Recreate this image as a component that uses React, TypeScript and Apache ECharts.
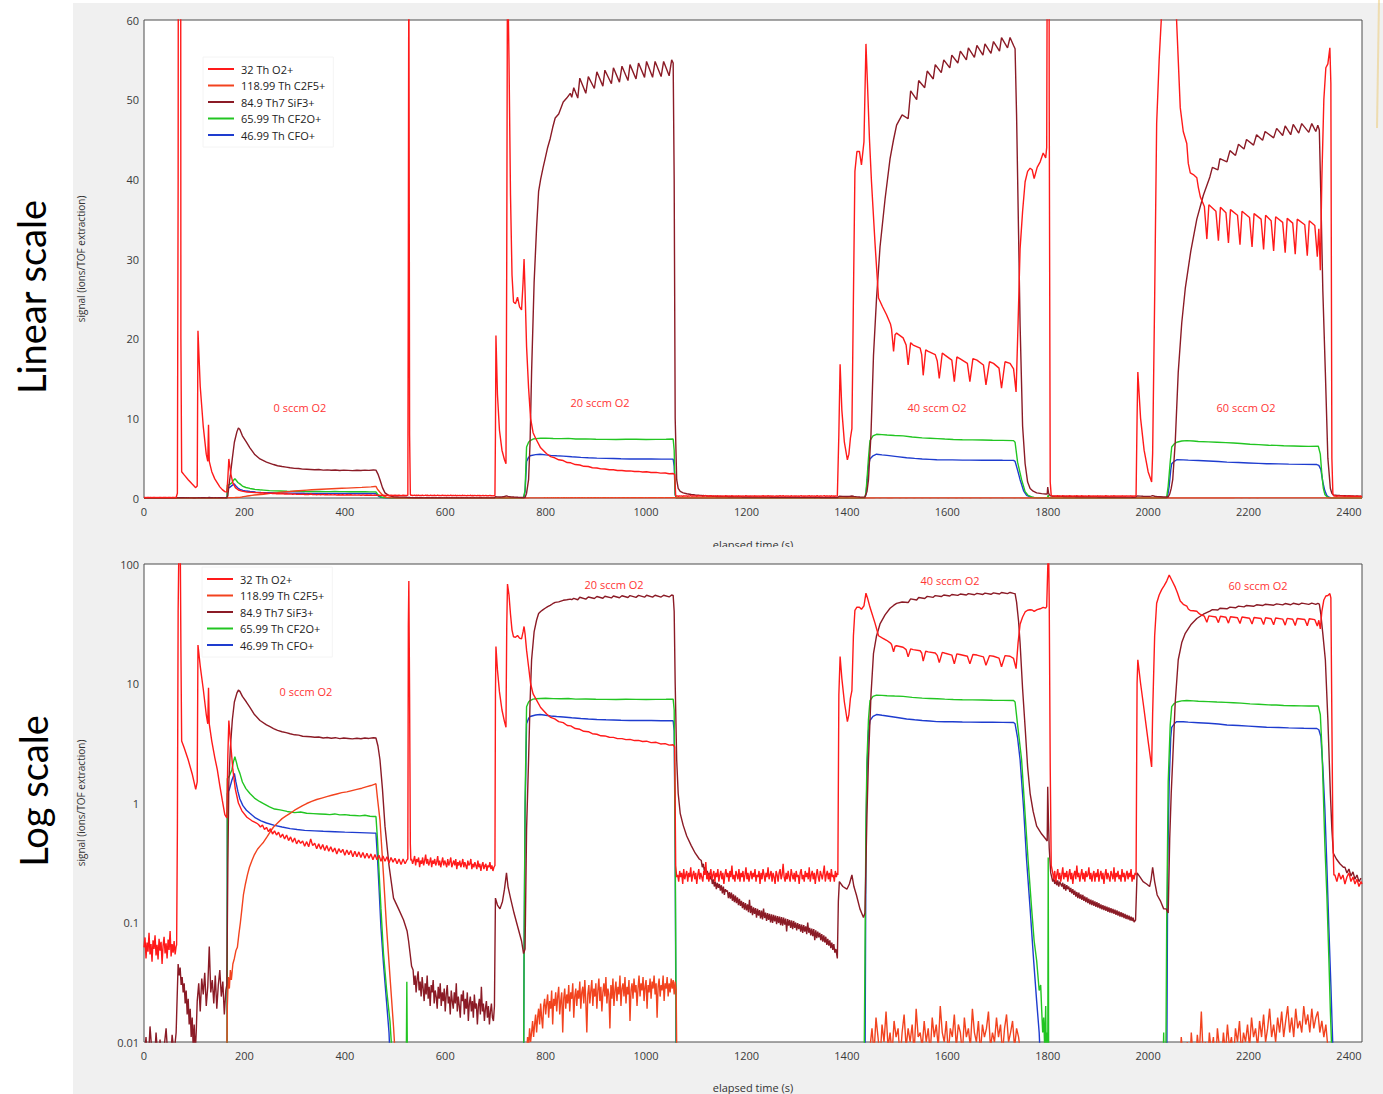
import React, { useEffect, useRef } from 'react';
import * as echarts from 'echarts';

type Pt = [number, number];

const FONT = "'Open Sans', 'Noto Sans', sans-serif";

// ---- axes ----
const TIME_MAX = 2426;
const TIME_STEP = 200;
const LIN_MAX = 60;
const LIN_STEP = 10;
const LOG_MIN = 0.01;
const LOG_MAX = 100;

const SERIES_NAMES = ['32 Th O2+', '118.99 Th C2F5+', '84.9 Th7 SiF3+', '65.99 Th CF2O+', '46.99 Th CFO+'];
const SERIES_COLORS = ['#ff1a1a', '#f2431f', '#8b1b26', '#22c522', '#1e3ccf'];
const FLOW_LABELS = ['0 sccm O2', '20 sccm O2', '40 sccm O2', '60 sccm O2'];

// sampled runs: values recorded every `dt` seconds from `t0`
const run = (t0: number, dt: number, v: number[]): Pt[] => v.map((y, i) => [t0 + i * dt, y]);
const join = (...parts: Pt[][]): Pt[] => parts.flat().sort((a, b) => a[0] - b[0]);

// ---- 32 Th O2+ ----
const o2Quiet0 = [0.062, 0.075, 0.05, 0.068, 0.057, 0.082, 0.054, 0.066, 0.047, 0.071,
  0.06, 0.078, 0.053, 0.065, 0.049, 0.073, 0.058, 0.069, 0.045, 0.064,
  0.076, 0.055, 0.067, 0.05, 0.072, 0.059, 0.085, 0.052, 0.066, 0.056,
  0.07, 0.054, 0.063];
const o2Pulse0: Pt[] = [[65, 0.065], [66.5, 0.6], [68, 40], [70, 220], [72, 200], [73.5, 20], [75, 3.3], [80, 2.9], [88, 2.3], [96, 1.75], [103, 1.3], [106, 1.5], [107.5, 21], [112, 14], [118, 9], [124, 5.5], [127, 4.6], [128.5, 9.2], [130, 4.6], [135, 3.3], [141, 2.4], [146, 1.9], [151, 1.4], [156, 1.05], [161, 0.8], [165, 0.75], [167, 2.5], [169, 4.9], [173, 3.0], [177, 1.9], [182, 1.3], [188, 1.0], [195, 0.86], [205, 0.76], [215, 0.71], [224, 0.68]];
const o2Decay0 = [0.66, 0.63, 0.655, 0.6, 0.625, 0.575, 0.61, 0.55, 0.585, 0.54, 0.57, 0.515, 0.55, 0.5, 0.54, 0.485, 0.52, 0.47, 0.51, 0.455, 0.49, 0.46, 0.48, 0.435, 0.475, 0.43, 0.5, 0.44, 0.46, 0.415, 0.455, 0.41, 0.45, 0.4, 0.44, 0.395, 0.43, 0.39, 0.42, 0.375, 0.415, 0.385, 0.41, 0.365, 0.405, 0.37, 0.4, 0.355, 0.395, 0.355, 0.39, 0.35, 0.385, 0.345, 0.38, 0.345, 0.375, 0.335, 0.37, 0.335, 0.365, 0.325, 0.36, 0.325, 0.355, 0.315, 0.35, 0.32, 0.345, 0.31, 0.34, 0.305, 0.34, 0.31, 0.335];
const o2Pulse1: Pt[] = [[525.5, 0.34], [526.5, 30], [527.5, 72], [529, 8], [530.5, 0.45], [531.5, 0.33]];
const o2Quiet1 = [0.34, 0.31, 0.33, 0.36, 0.3, 0.34, 0.32, 0.35, 0.29, 0.33,
  0.31, 0.35, 0.3, 0.33, 0.37, 0.31, 0.34, 0.3, 0.32, 0.35,
  0.29, 0.33, 0.31, 0.34, 0.3, 0.32, 0.36, 0.3, 0.33, 0.29,
  0.32, 0.35, 0.3, 0.33, 0.31, 0.29, 0.34, 0.3, 0.32, 0.35,
  0.29, 0.31, 0.33, 0.3, 0.34, 0.28, 0.32, 0.3, 0.33, 0.29,
  0.31, 0.34, 0.29, 0.32, 0.3, 0.28, 0.33, 0.3, 0.31, 0.34,
  0.28, 0.31, 0.29, 0.32, 0.3, 0.28, 0.33, 0.29, 0.31, 0.27,
  0.3, 0.32, 0.28, 0.3, 0.31, 0.27, 0.3, 0.29, 0.32, 0.28,
  0.3, 0.27, 0.29];
const o2Pulse2: Pt[] = [[699, 0.3], [700, 8], [701, 20.4], [704, 13], [708, 8.5], [713, 6], [718, 4.8], [721, 4.3], [722.5, 30], [724, 68], [727, 55], [730, 38], [733, 28], [736, 24.6], [740, 24.4], [744, 25.2], [748, 24], [752, 23.6], [755, 27], [757, 30], [759, 26], [762, 19], [766, 13.8], [770, 10], [775, 8.2], [780, 7.5], [790, 6.3], [802, 5.55], [810, 5.2], [818, 5.05], [826, 4.8], [835, 4.7], [843, 4.45], [850, 4.42], [859, 4.2], [868, 4.14], [876, 3.98], [885, 3.95], [893, 3.8], [902, 3.76], [910, 3.65], [918, 3.64], [927, 3.55], [935, 3.54], [943, 3.46], [952, 3.46], [960, 3.39], [968, 3.41], [977, 3.33], [985, 3.34], [993, 3.27], [1001, 3.29], [1010, 3.2], [1020, 3.22], [1029, 3.12], [1038, 3.14], [1046, 3.05], [1054, 3.07], [1057, 2.95], [1059, 0.3], [1061, 0.24]];
const o2Quiet2 = [0.25, 0.22, 0.27, 0.24, 0.26, 0.21, 0.28, 0.23, 0.25, 0.27,
  0.22, 0.26, 0.24, 0.29, 0.22, 0.25, 0.27, 0.23, 0.26, 0.21,
  0.25, 0.28, 0.23, 0.26, 0.24, 0.22, 0.27, 0.25, 0.32, 0.23,
  0.26, 0.22, 0.25, 0.28, 0.23, 0.25, 0.27, 0.22, 0.26, 0.24,
  0.28, 0.22, 0.25, 0.27, 0.23, 0.26, 0.21, 0.25, 0.28, 0.24,
  0.26, 0.22, 0.27, 0.24, 0.3, 0.23, 0.25, 0.22, 0.27, 0.25,
  0.23, 0.28, 0.22, 0.26, 0.24, 0.27, 0.22, 0.25, 0.29, 0.23,
  0.26, 0.22, 0.25, 0.27, 0.23, 0.26, 0.24, 0.28, 0.22, 0.25,
  0.24, 0.27, 0.21, 0.26, 0.23, 0.28, 0.25, 0.22, 0.26, 0.24,
  0.29, 0.23, 0.25, 0.27, 0.22, 0.26, 0.24, 0.21, 0.27, 0.25,
  0.22, 0.26, 0.28, 0.23, 0.25, 0.31, 0.24, 0.22, 0.26, 0.23,
  0.27, 0.24, 0.22, 0.28, 0.25, 0.23, 0.26, 0.22, 0.27, 0.24,
  0.25, 0.21, 0.26, 0.28, 0.23, 0.25, 0.22, 0.27, 0.24, 0.26,
  0.23, 0.29, 0.22, 0.25, 0.27, 0.23, 0.26, 0.21, 0.25, 0.28,
  0.24, 0.22, 0.27, 0.25, 0.23, 0.26, 0.3, 0.22, 0.25, 0.27,
  0.23, 0.26, 0.22, 0.28, 0.24, 0.25, 0.22, 0.27, 0.24, 0.26];
const o2Pulse3: Pt[] = [[1382, 0.25], [1384, 8], [1386.5, 16.8], [1390, 11], [1395, 7], [1401, 4.8], [1404, 5.5], [1407, 7.5], [1410, 8.7], [1413, 25], [1416, 41], [1420, 43.5], [1425, 43.5], [1429, 41.8], [1434, 44.7], [1438, 57], [1441, 52], [1445, 45], [1449, 39.7], [1456, 32], [1463, 25.1], [1471, 24], [1479, 23], [1487, 21.8], [1489, 21.2], [1493, 18.4], [1496, 20.5], [1499, 20.7], [1512, 20.1], [1518, 19.2], [1522, 16.7], [1527, 19.5], [1532, 19.2], [1546, 18.8], [1549, 18], [1552, 15.4], [1557, 18.6], [1562, 18.4], [1576, 18], [1580, 17.2], [1584, 15], [1590, 18.2], [1596, 17.9], [1609, 17.3], [1614, 14.6], [1619, 17.7], [1625, 17.5], [1640, 16.9], [1645, 14.6], [1651, 17.5], [1659, 17.3], [1672, 16.7], [1677, 14.2], [1684, 17.1], [1692, 16.9], [1703, 16.3], [1708, 13.8], [1715, 17.1], [1725, 16.9], [1732, 16.2], [1737, 13.3], [1741, 22], [1745, 31.3], [1750, 36], [1755, 39.7], [1760, 41], [1765, 41.4], [1769, 41.2], [1773, 40.1], [1779, 41.5], [1785, 42.2], [1791, 43.3], [1796, 42.7], [1798, 44], [1800, 90], [1801.5, 160], [1803, 50], [1805, 2], [1807, 0.3]];
const o2Quiet3 = [0.26, 0.23, 0.27, 0.22, 0.25, 0.28, 0.23, 0.26, 0.22, 0.25,
  0.29, 0.23, 0.26, 0.24, 0.27, 0.22, 0.25, 0.28, 0.23, 0.26,
  0.21, 0.25, 0.27, 0.23, 0.3, 0.24, 0.26, 0.22, 0.25, 0.28,
  0.23, 0.26, 0.22, 0.27, 0.24, 0.25, 0.29, 0.23, 0.26, 0.22,
  0.25, 0.27, 0.22, 0.26, 0.24, 0.28, 0.22, 0.25, 0.27, 0.23,
  0.26, 0.21, 0.25, 0.28, 0.23, 0.26, 0.24, 0.22, 0.27, 0.25,
  0.23, 0.29, 0.22, 0.26, 0.24, 0.27, 0.23, 0.25, 0.22, 0.28,
  0.24, 0.26, 0.22, 0.25, 0.27, 0.23, 0.26, 0.24, 0.28, 0.22,
  0.25, 0.23, 0.26];
const o2Pulse4: Pt[] = [[1976, 0.25], [1978, 10], [1979.5, 15.8], [1985, 10], [1992, 6], [2000, 3.3], [2007, 2.0], [2009, 5.6], [2013, 25], [2017, 47], [2022, 55], [2027, 61], [2032, 66], [2037, 72], [2042, 81], [2048, 72], [2054, 64], [2058, 58], [2064, 49], [2070, 46], [2077, 44.5], [2080, 42], [2084, 40.8], [2090, 40.6], [2097, 40.2], [2100, 39], [2104, 37.8], [2112, 36.6], [2117, 32.5], [2121, 36.8], [2135, 36], [2140, 32.3], [2144, 36.5], [2155, 35.8], [2160, 32], [2164, 36.2], [2178, 35.5], [2183, 31.8], [2187, 36], [2202, 35.2], [2207, 31.5], [2211, 35.7], [2225, 35], [2230, 31.2], [2234, 35.5], [2245, 34.8], [2250, 31], [2254, 35.3], [2268, 34.6], [2273, 30.8], [2277, 35.1], [2288, 34.5], [2293, 30.6], [2297, 35], [2312, 34.3], [2317, 30.4], [2321, 34.8], [2332, 34.2], [2337, 30.3], [2340, 33.8], [2343, 28.6], [2346, 40], [2350, 50], [2354, 54], [2358, 54.5], [2362, 56.5], [2364, 52], [2366, 5], [2368, 0.5], [2370, 0.25]];
const o2Quiet4 = [0.25, 0.22, 0.26, 0.23, 0.25, 0.21, 0.24, 0.26, 0.22, 0.24, 0.21, 0.23, 0.2, 0.22];
const o2Tail: Pt[] = [[2426, 0.21]];

// ---- 118.99 Th C2F5+ ----
const c2Off0: Pt[] = [[0, 0.003], [164, 0.003]];
const c2Rise0: Pt[] = [[166, 0.02], [168, 0.035], [170, 0.028], [172, 0.04], [174, 0.033], [177, 0.045], [180, 0.05], [183, 0.058], [186, 0.062], [189, 0.08], [192, 0.1], [195, 0.13], [198, 0.17], [202, 0.21], [206, 0.25], [210, 0.29], [215, 0.33], [220, 0.37], [226, 0.41], [232, 0.44], [238, 0.47], [245, 0.52], [252, 0.58], [258, 0.63], [266, 0.68], [275, 0.74], [283, 0.78], [291, 0.82], [300, 0.87], [308, 0.91], [316, 0.95], [324, 0.99], [334, 1.03], [344, 1.07], [354, 1.1], [364, 1.13], [374, 1.16], [384, 1.19], [394, 1.22], [404, 1.24], [414, 1.27], [424, 1.3], [434, 1.33], [444, 1.37], [452, 1.4], [460, 1.44], [462, 1.45], [465, 1.1], [470, 0.72], [477, 0.25], [483, 0.093], [490, 0.035], [497, 0.0134], [502, 0.006], [505, 0.003], [760, 0.003]];
const c2Band20 = [0.008, 0.011, 0.009, 0.013, 0.01, 0.012, 0.015, 0.011, 0.014, 0.017,
  0.012, 0.016, 0.019, 0.014, 0.021, 0.016, 0.013, 0.02, 0.023, 0.017,
  0.021, 0.025, 0.016, 0.022, 0.019, 0.027, 0.014, 0.023, 0.02, 0.026,
  0.018, 0.024, 0.029, 0.017, 0.022, 0.026, 0.012, 0.023, 0.028, 0.019,
  0.025, 0.021, 0.03, 0.018, 0.026, 0.023, 0.031, 0.016, 0.024, 0.028,
  0.02, 0.027, 0.023, 0.032, 0.019, 0.026, 0.029, 0.021, 0.033, 0.022,
  0.012, 0.025, 0.03, 0.021, 0.027, 0.033, 0.02, 0.028, 0.024, 0.031,
  0.019, 0.027, 0.034, 0.022, 0.029, 0.018, 0.026, 0.031, 0.024, 0.035,
  0.021, 0.028, 0.025, 0.013, 0.03, 0.023, 0.034, 0.02, 0.027, 0.032,
  0.022, 0.029, 0.025, 0.036, 0.02, 0.028, 0.031, 0.024, 0.035, 0.021,
  0.029, 0.025, 0.033, 0.015, 0.027, 0.031, 0.023, 0.034, 0.026, 0.03,
  0.02, 0.028, 0.036, 0.024, 0.031, 0.027, 0.035, 0.022, 0.029, 0.033,
  0.019, 0.03, 0.026, 0.034, 0.023, 0.032, 0.028, 0.036, 0.025, 0.031,
  0.016, 0.029, 0.034, 0.024, 0.03, 0.027, 0.036, 0.022, 0.031, 0.028,
  0.035, 0.024, 0.031, 0.026, 0.034, 0.028, 0.033, 0.025, 0.032, 0.027];
const c2Off1: Pt[] = [[1062, 0.003], [1444, 0.003]];
const c2Band40 = [0.009, 0.013, 0.008, 0.016, 0.011, 0.007, 0.014, 0.01, 0.018, 0.009,
  0.012, 0.008, 0.015, 0.011, 0.013, 0.007, 0.012, 0.017, 0.009, 0.013,
  0.01, 0.014, 0.008, 0.019, 0.011, 0.012, 0.009, 0.015, 0.01, 0.013,
  0.008, 0.016, 0.011, 0.014, 0.009, 0.02, 0.012, 0.01, 0.015, 0.008,
  0.013, 0.011, 0.017, 0.009, 0.014, 0.012, 0.008, 0.016, 0.011, 0.013,
  0.009, 0.019, 0.012, 0.01, 0.015, 0.008, 0.014, 0.011, 0.013, 0.018,
  0.009, 0.012, 0.01, 0.016, 0.011, 0.014, 0.008, 0.013, 0.017, 0.01,
  0.012, 0.015, 0.009, 0.013, 0.011, 0.008];
const c2Off2: Pt[] = [[1752, 0.003], [2052, 0.003]];
const c2Band60 = [0.006, 0.009, 0.005, 0.011, 0.007, 0.006, 0.01, 0.005, 0.012, 0.007,
  0.006, 0.0115, 0.008, 0.018, 0.007, 0.01, 0.006, 0.012, 0.008, 0.011,
  0.006, 0.013, 0.009, 0.007, 0.012, 0.008, 0.014, 0.009, 0.011, 0.007,
  0.013, 0.01, 0.015, 0.008, 0.012, 0.01, 0.014, 0.009, 0.016, 0.011,
  0.013, 0.009, 0.015, 0.011, 0.017, 0.01, 0.013, 0.019, 0.011, 0.014,
  0.01, 0.016, 0.012, 0.018, 0.011, 0.015, 0.02, 0.012, 0.016, 0.011,
  0.019, 0.013, 0.015, 0.012, 0.02, 0.014, 0.017, 0.012, 0.019, 0.013,
  0.016, 0.018, 0.012, 0.015, 0.011, 0.014, 0.009, 0.007];
const c2Off3: Pt[] = [[2366, 0.003], [2426, 0.003]];

// ---- 84.9 Th7 SiF3+ ----
const sifQuiet0 = [0.007, 0.011, 0.006, 0.0135, 0.008, 0.006, 0.012, 0.007, 0.0105, 0.006, 0.009, 0.013, 0.007, 0.006, 0.0115, 0.008, 0.012];
const sifEarlyA = [0.045, 0.036, 0.042, 0.03, 0.035, 0.026, 0.031, 0.021, 0.027, 0.017, 0.023, 0.014, 0.019, 0.011, 0.016, 0.009, 0.014, 0.008, 0.012];
const sifEarlyB = [0.022, 0.031, 0.018, 0.034, 0.025, 0.038, 0.02, 0.029, 0.063, 0.026, 0.033, 0.021, 0.036, 0.019, 0.03, 0.04, 0.024, 0.032, 0.017, 0.027];
const sifStep0: Pt[] = [[165, 0.03], [167, 0.3], [169, 1.5], [172, 2.9], [176, 5], [180, 7], [185, 8.3], [188, 8.8], [191, 8.6], [196, 7.8], [204, 7.0], [211, 6.3], [220, 5.5], [231, 4.9], [244, 4.5], [251, 4.35], [258, 4.2], [266, 4.05], [275, 3.95], [283, 3.88], [291, 3.8], [300, 3.72], [308, 3.7], [316, 3.62], [324, 3.6], [332, 3.58], [340, 3.55], [348, 3.57], [357, 3.5], [365, 3.53], [373, 3.48], [381, 3.52], [390, 3.46], [398, 3.5], [407, 3.47], [415, 3.44], [424, 3.48], [432, 3.45], [440, 3.5], [448, 3.47], [457, 3.52], [462, 3.5], [466, 3.0], [470, 2.3], [475, 1.3], [480, 0.64], [488, 0.3], [497, 0.16], [507, 0.13], [517, 0.105], [524, 0.085], [527, 0.07], [530, 0.055], [533, 0.043]];
const sifTail0 = [0.04, 0.03, 0.036, 0.026, 0.034, 0.039, 0.027, 0.032, 0.024, 0.035,
  0.028, 0.022, 0.031, 0.025, 0.036, 0.023, 0.029, 0.02, 0.03, 0.026,
  0.033, 0.021, 0.027, 0.024, 0.019, 0.029, 0.023, 0.031, 0.02, 0.026,
  0.022, 0.028, 0.018, 0.025, 0.03, 0.021, 0.024, 0.017, 0.027, 0.022,
  0.019, 0.026, 0.021, 0.031, 0.018, 0.024, 0.02, 0.016, 0.025, 0.022,
  0.027, 0.017, 0.023, 0.019, 0.026, 0.015, 0.021, 0.024, 0.018, 0.022,
  0.016, 0.025, 0.019, 0.021, 0.014, 0.02, 0.023, 0.017, 0.029, 0.018,
  0.021, 0.015, 0.019, 0.022, 0.016, 0.02, 0.014, 0.018, 0.021, 0.016,
  0.015];
const sifStep20: Pt[] = [[698, 0.02], [700, 0.16], [704, 0.14], [709, 0.13], [714, 0.15], [718, 0.19], [722, 0.26], [725, 0.2], [730, 0.16], [737, 0.12], [745, 0.09], [752, 0.07], [756, 0.055], [759, 0.06], [762, 0.6], [766, 2.3], [769, 7], [772, 15.8], [777, 27], [782, 34], [786, 38.5], [790, 40], [795, 41.5], [799, 42.6], [804, 44], [809, 45.1], [814, 46.5], [819, 47.7], [826, 48.2], [835, 49.7], [842, 50.2], [849, 50.8], [852, 50.3], [856, 51.5], [864, 50.2], [868, 52.7], [880, 50.8], [885, 52.9], [897, 51.4], [902, 53.5], [914, 51.7], [918, 53.7], [931, 52.0], [935, 54.0], [947, 52.2], [952, 54.2], [964, 52.4], [968, 54.4], [980, 52.6], [985, 54.6], [997, 52.8], [1001, 54.8], [1013, 52.8], [1018, 54.8], [1030, 52.9], [1035, 54.8], [1046, 53.0], [1051, 55.0], [1054, 54.6], [1056, 40], [1058, 10], [1061, 2.3], [1064, 1.2], [1068, 0.82], [1074, 0.65], [1081, 0.53], [1090, 0.44], [1098, 0.38], [1106, 0.34]];
const sifTail1 = [0.33, 0.29, 0.31, 0.27, 0.29, 0.25, 0.27, 0.24, 0.26, 0.23,
  0.245, 0.21, 0.23, 0.2, 0.22, 0.19, 0.215, 0.195, 0.21, 0.185,
  0.205, 0.175, 0.2, 0.17, 0.19, 0.182, 0.185, 0.16, 0.18, 0.158,
  0.178, 0.152, 0.172, 0.148, 0.168, 0.145, 0.162, 0.14, 0.158, 0.138,
  0.152, 0.132, 0.148, 0.128, 0.145, 0.126, 0.142, 0.122, 0.155, 0.12,
  0.138, 0.115, 0.134, 0.118, 0.132, 0.11, 0.13, 0.114, 0.127, 0.108,
  0.126, 0.106, 0.131, 0.109, 0.121, 0.103, 0.12, 0.105, 0.118, 0.1,
  0.117, 0.099, 0.116, 0.102, 0.114, 0.097, 0.113, 0.099, 0.112, 0.095,
  0.111, 0.094, 0.11, 0.096, 0.108, 0.084, 0.107, 0.094, 0.105, 0.09,
  0.104, 0.088, 0.103, 0.09, 0.1, 0.086, 0.099, 0.088, 0.097, 0.084,
  0.096, 0.082, 0.095, 0.084, 0.093, 0.08, 0.1, 0.082, 0.09, 0.078,
  0.089, 0.077, 0.088, 0.071, 0.086, 0.074, 0.084, 0.075, 0.082, 0.071,
  0.08, 0.069, 0.078, 0.068, 0.076, 0.065, 0.073, 0.064, 0.071, 0.061,
  0.068, 0.059, 0.066, 0.056, 0.06];
const sifStep40: Pt[] = [[1381, 0.05], [1383, 0.15], [1385, 0.22], [1392, 0.2], [1400, 0.19], [1405, 0.21], [1410, 0.25], [1414, 0.2], [1419, 0.17], [1426, 0.13], [1433, 0.11], [1436, 0.12], [1440, 0.8], [1443, 2.3], [1448, 8], [1453, 17.9], [1459, 25], [1466, 31.5], [1476, 37.5], [1486, 42.6], [1493, 45], [1499, 46.8], [1510, 48.1], [1522, 47.6], [1527, 51.1], [1539, 50.0], [1543, 52.4], [1555, 51.5], [1560, 53.6], [1572, 52.6], [1576, 54.4], [1588, 53.4], [1593, 55.0], [1605, 54.0], [1609, 55.6], [1621, 54.6], [1626, 56.1], [1638, 55.0], [1642, 56.5], [1654, 55.3], [1659, 56.8], [1671, 55.6], [1675, 57.0], [1687, 55.8], [1692, 57.3], [1704, 56.1], [1708, 57.8], [1720, 56.5], [1725, 57.8], [1732, 56.8], [1735, 56.4], [1738, 48], [1742, 33], [1745, 21.7], [1750, 9], [1755, 4.3], [1760, 2.0], [1765, 1.2], [1771, 0.85], [1778, 0.64], [1788, 0.55], [1796, 0.5], [1799, 0.48], [1800, 1.37], [1801.5, 0.7], [1803, 0.42], [1806, 0.26]];
const sifTail2 = [0.24, 0.22, 0.235, 0.21, 0.23, 0.205, 0.225, 0.2, 0.22, 0.21,
  0.2, 0.215, 0.19, 0.21, 0.185, 0.205, 0.19, 0.2, 0.18, 0.195,
  0.175, 0.19, 0.17, 0.185, 0.165, 0.18, 0.16, 0.178, 0.158, 0.172,
  0.155, 0.17, 0.152, 0.165, 0.148, 0.162, 0.145, 0.158, 0.142, 0.155,
  0.14, 0.153, 0.138, 0.15, 0.135, 0.148, 0.133, 0.145, 0.131, 0.142,
  0.129, 0.14, 0.127, 0.138, 0.125, 0.136, 0.123, 0.134, 0.121, 0.132,
  0.12, 0.13, 0.118, 0.128, 0.116, 0.126, 0.114, 0.124, 0.112, 0.122,
  0.111, 0.12, 0.109, 0.118, 0.107, 0.116, 0.106, 0.114, 0.104, 0.112,
  0.103, 0.11, 0.101];
const sifStep60: Pt[] = [[1975, 0.105], [1978, 0.26], [1984, 0.24], [1990, 0.22], [1997, 0.21], [2003, 0.2], [2006, 0.23], [2009, 0.29], [2013, 0.22], [2018, 0.17], [2025, 0.15], [2031, 0.13], [2036, 0.13], [2040, 0.12], [2043, 0.5], [2046, 1.2], [2049, 2.3], [2054, 7], [2060, 15.8], [2067, 22], [2074, 26.3], [2085, 31], [2097, 35], [2110, 38], [2123, 40.3], [2128, 41.5], [2139, 41.2], [2143, 42.6], [2157, 42.2], [2163, 43.6], [2174, 43.0], [2180, 44.4], [2191, 43.8], [2196, 45.0], [2210, 44.3], [2216, 45.6], [2228, 44.9], [2233, 46.0], [2250, 45.2], [2256, 46.4], [2268, 45.5], [2273, 46.7], [2284, 45.6], [2289, 46.9], [2300, 45.8], [2306, 47.0], [2320, 45.9], [2326, 47.0], [2334, 46.0], [2338, 46.8], [2341, 46.2], [2344, 38], [2348, 26], [2353, 15.8], [2358, 5], [2363, 1.2], [2366, 0.6], [2369, 0.38], [2375, 0.34], [2382, 0.31], [2389, 0.29]];
const sifTail3 = [0.29, 0.26, 0.28, 0.245, 0.265, 0.23, 0.25, 0.22, 0.235];

// ---- 65.99 Th CF2O+ ----
const cf2o0: Pt[] = [[0, 0.004], [165.5, 0.004], [166, 1.6], [170, 1.68], [175, 1.9], [178, 2.2], [181, 2.44], [184, 2.2], [187, 1.95], [191, 1.77], [196, 1.5], [203, 1.32], [211, 1.2], [220, 1.1], [230, 1.03], [238, 0.99], [250, 0.93], [260, 0.89], [271, 0.875], [285, 0.85], [300, 0.83], [312, 0.84], [324, 0.82], [337, 0.815], [350, 0.81], [362, 0.805], [370, 0.8], [380, 0.81], [390, 0.795], [400, 0.8], [410, 0.79], [420, 0.785], [430, 0.78], [440, 0.79], [450, 0.775], [457, 0.77], [462, 0.77], [465, 0.5], [467, 0.33], [472, 0.13], [477, 0.055], [483, 0.028], [490, 0.0148], [494, 0.008], [496, 0.004], [522, 0.004], [523.5, 0.032], [525, 0.004]];
const cf2o20: Pt[] = [[756, 0.004], [757, 0.05], [759, 1], [762, 6.4], [766, 7.0], [769, 7.2], [775, 7.4], [780, 7.45], [790, 7.5], [800, 7.52], [815, 7.47], [830, 7.45], [845, 7.48], [860, 7.4], [880, 7.42], [900, 7.38], [920, 7.36], [940, 7.35], [960, 7.38], [980, 7.37], [1000, 7.34], [1020, 7.36], [1040, 7.38], [1054, 7.4], [1056, 6], [1058, 0.5], [1060, 0.01], [1061, 0.004]];
const cf2o40: Pt[] = [[1434, 0.004], [1436, 0.05], [1438, 0.7], [1440, 2.3], [1443, 5], [1446, 7.2], [1452, 7.8], [1459, 8.0], [1470, 7.95], [1480, 7.9], [1495, 7.85], [1512, 7.8], [1530, 7.65], [1550, 7.55], [1565, 7.5], [1580, 7.45], [1595, 7.4], [1612, 7.35], [1630, 7.32], [1650, 7.3], [1670, 7.28], [1690, 7.25], [1710, 7.23], [1732, 7.2], [1735, 7.0], [1740, 4.5], [1748, 2.3], [1755, 0.8], [1761, 0.33], [1768, 0.13], [1773, 0.07], [1778, 0.048], [1783, 0.027], [1786, 0.03], [1788, 0.0185], [1790, 0.012], [1792, 0.016], [1794, 0.009], [1796, 0.02], [1797, 0.008], [1799, 0.012], [1800, 0.004], [1801, 0.35], [1802, 0.004]];
const cf2o60: Pt[] = [[2029, 0.004], [2031, 0.012], [2032, 0.004], [2035, 0.004], [2037, 0.1], [2040, 1.5], [2044, 4.5], [2047, 6.4], [2052, 6.8], [2057, 7.0], [2067, 7.15], [2077, 7.2], [2090, 7.15], [2100, 7.1], [2120, 7.05], [2137, 7.0], [2155, 6.95], [2170, 6.9], [2185, 6.85], [2203, 6.75], [2220, 6.7], [2240, 6.62], [2255, 6.6], [2270, 6.55], [2290, 6.52], [2305, 6.5], [2320, 6.48], [2339, 6.5], [2343, 5.5], [2346, 3], [2349, 1.2], [2352, 0.45], [2356, 0.17], [2360, 0.05], [2363, 0.018], [2366, 0.008], [2368, 0.004], [2426, 0.004]];

// ---- 46.99 Th CFO+ ----
const cfo0: Pt[] = [[0, 0.004], [165.5, 0.004], [166, 1.2], [170, 1.3], [175, 1.55], [180, 1.77], [183, 1.5], [187, 1.25], [191, 1.08], [197, 0.95], [204, 0.87], [211, 0.82], [222, 0.75], [233, 0.71], [244, 0.68], [260, 0.65], [275, 0.63], [291, 0.61], [305, 0.6], [320, 0.59], [340, 0.585], [357, 0.58], [380, 0.575], [400, 0.57], [430, 0.565], [457, 0.56], [462, 0.56], [465, 0.35], [468, 0.2], [472, 0.09], [477, 0.045], [483, 0.022], [488, 0.012], [491, 0.006], [493, 0.004]];
const cfo20: Pt[] = [[756, 0.004], [757, 0.05], [759, 0.8], [762, 4.6], [766, 5.1], [769, 5.3], [780, 5.45], [789, 5.5], [800, 5.42], [810, 5.35], [822, 5.3], [835, 5.25], [852, 5.17], [870, 5.1], [885, 5.05], [902, 5.0], [920, 4.97], [935, 4.95], [950, 4.92], [968, 4.9], [990, 4.9], [1010, 4.9], [1030, 4.88], [1054, 4.88], [1056, 4], [1058, 0.4], [1060, 0.004]];
const cfo40: Pt[] = [[1436, 0.004], [1438, 0.5], [1440, 1.8], [1443, 4], [1446, 4.9], [1452, 5.3], [1459, 5.5], [1470, 5.42], [1480, 5.35], [1500, 5.2], [1519, 5.05], [1535, 4.97], [1550, 4.9], [1565, 4.85], [1579, 4.8], [1595, 4.78], [1610, 4.78], [1630, 4.76], [1645, 4.75], [1670, 4.74], [1690, 4.75], [1710, 4.73], [1732, 4.72], [1735, 4.6], [1740, 3.5], [1745, 2.3], [1752, 0.9], [1758, 0.33], [1765, 0.13], [1772, 0.048], [1778, 0.022], [1783, 0.012], [1786, 0.006], [1788, 0.004]];
const cfo60: Pt[] = [[2037, 0.004], [2039, 0.3], [2042, 1.5], [2045, 3.5], [2047, 4.3], [2052, 4.6], [2057, 4.8], [2070, 4.78], [2080, 4.75], [2100, 4.7], [2120, 4.65], [2140, 4.58], [2157, 4.5], [2180, 4.45], [2200, 4.4], [2220, 4.35], [2236, 4.3], [2260, 4.28], [2280, 4.25], [2310, 4.22], [2336, 4.2], [2340, 4.1], [2344, 3.6], [2348, 2], [2352, 0.9], [2356, 0.3], [2360, 0.09], [2364, 0.03], [2367, 0.012], [2370, 0.005], [2372, 0.004], [2426, 0.004]];

const o2Data = join(run(0, 2, o2Quiet0), o2Pulse0, run(228, 4, o2Decay0), o2Pulse1, run(533, 2, o2Quiet1), o2Pulse2,
  run(1063, 2, o2Quiet2), o2Pulse3, run(1810, 2, o2Quiet3), o2Pulse4, run(2372, 4, o2Quiet4), o2Tail);
const c2Data = join(c2Off0, c2Rise0, run(762, 2, c2Band20), c2Off1, run(1446, 4, c2Band40), c2Off2, run(2054, 4, c2Band60), c2Off3);
const sifData = join(run(0, 4, sifQuiet0), run(68, 2, sifEarlyA), run(106, 3, sifEarlyB), sifStep0, run(536, 2, sifTail0), sifStep20,
  run(1110, 2, sifTail1), sifStep40, run(1808, 2, sifTail2), sifStep60, run(2392, 4, sifTail3));
const cf2oData = join(cf2o0, cf2o20, cf2o40, cf2o60);
const cfoData = join(cfo0, cfo20, cfo40, cfo60);

const SERIES_DATA = [o2Data, c2Data, sifData, cf2oData, cfoData];
// drawing order: blue lowest, red on top
const SERIES_Z = [6, 4, 5, 3, 2];

function buildOption() {
  const gridTop = { left: 144, top: 20, width: 1218, height: 478 };
  const gridBottom = { left: 144, top: 564, width: 1218, height: 478 };
  const gridStyle = { show: true, backgroundColor: '#ffffff', borderColor: '#4d4d4d', borderWidth: 1 };

  const labelStyle = { fontSize: 11, color: '#3a3a3a', fontFamily: FONT };
  const hidden = { show: false };

  const timeAxis = (gridIndex: number, nameGap: number) => ({
    type: 'value', gridIndex, min: 0, max: TIME_MAX, interval: TIME_STEP,
    name: 'elapsed time (s)', nameLocation: 'middle', nameGap,
    nameTextStyle: { fontSize: 11, color: '#333', fontFamily: FONT },
    axisLine: hidden, axisTick: hidden, splitLine: hidden,
    axisLabel: { ...labelStyle, margin: 8, formatter: (v: number) => (v % TIME_STEP === 0 ? String(v) : '') },
  });

  const yName = {
    name: 'signal (ions/TOF extraction)', nameLocation: 'middle', nameGap: 58, nameRotate: 90,
    nameTextStyle: { fontSize: 10, color: '#333', fontFamily: FONT },
  };

  const legend = (top: number, left: number) => ({
    data: SERIES_NAMES, orient: 'vertical', left, top, icon: 'rect', itemWidth: 26, itemHeight: 2, itemGap: 2.5,
    padding: [5, 8, 5, 5], backgroundColor: '#ffffff', borderColor: '#f4f4f4', borderWidth: 1,
    selectedMode: false, textStyle: { fontSize: 11, color: '#222', lineHeight: 14, fontFamily: FONT, padding: [0, 0, 0, 2] },
  });

  const series: any[] = [];
  [0, 1].forEach((g) => {
    SERIES_NAMES.forEach((name, i) => {
      series.push({
        type: 'line', name, xAxisIndex: g, yAxisIndex: g, data: SERIES_DATA[i],
        showSymbol: false, symbol: 'none', color: SERIES_COLORS[i], z: SERIES_Z[i], clip: true, silent: true,
        lineStyle: { width: 1.4, color: SERIES_COLORS[i] },
      });
    });
  });

  const flowText = (text: string, x: number, y: number) => ({
    type: 'text', x, y, z: 50,
    style: { text, fill: '#ff3535', font: `11px ${FONT}`, textAlign: 'center', textVerticalAlign: 'middle', align: 'center', verticalAlign: 'middle' },
  });
  const sideText = (text: string, x: number, y: number) => ({
    type: 'text', x, y, rotation: Math.PI / 2, z: 50,
    style: { text, fill: '#000000', font: `38px Lato, ${FONT}`, textAlign: 'center', textVerticalAlign: 'middle', align: 'center', verticalAlign: 'middle' },
  });

  return {
    animation: false,
    backgroundColor: '#ffffff',
    textStyle: { fontFamily: FONT },
    graphic: [
      { type: 'rect', z: -10, shape: { x: 73, y: 3, width: 1310, height: 1091 }, style: { fill: '#f0f0f0' } },
      { type: 'rect', z: 60, shape: { x: 690, y: 547, width: 130, height: 10 }, style: { fill: '#f0f0f0' } },
      { type: 'line', z: 60, shape: { x1: 1379, y1: 0, x2: 1377, y2: 128 }, style: { stroke: 'rgba(236,196,96,0.45)', lineWidth: 2 } },
      sideText('Linear scale', 31, 297),
      sideText('Log scale', 33, 791),
      flowText(FLOW_LABELS[0], 300, 407),
      flowText(FLOW_LABELS[1], 600, 402),
      flowText(FLOW_LABELS[2], 937, 407),
      flowText(FLOW_LABELS[3], 1246, 407),
      flowText(FLOW_LABELS[0], 306, 691),
      flowText(FLOW_LABELS[1], 614, 584),
      flowText(FLOW_LABELS[2], 950, 580),
      flowText(FLOW_LABELS[3], 1258, 585),
    ],
    legend: [legend(57, 203), legend(567, 202)],
    grid: [{ ...gridTop, ...gridStyle }, { ...gridBottom, ...gridStyle }],
    xAxis: [timeAxis(0, 41), timeAxis(1, 40)],
    yAxis: [
      {
        type: 'value', gridIndex: 0, min: 0, max: LIN_MAX, interval: LIN_STEP, ...yName,
        axisLine: hidden, axisTick: hidden, splitLine: hidden, axisLabel: { ...labelStyle, margin: 5 },
      },
      {
        type: 'log', gridIndex: 1, min: LOG_MIN, max: LOG_MAX, logBase: 10, ...yName,
        axisLine: hidden, axisTick: hidden, splitLine: hidden,
        axisLabel: {
          ...labelStyle, margin: 5,
          formatter: (v: number) => {
            const e = Math.round(Math.log10(v));
            return e >= 0 ? String(Math.pow(10, e)) : Math.pow(10, e).toFixed(-e);
          },
        },
      },
    ],
    series,
  };
}

export default function App() {
  const ref = useRef<HTMLDivElement>(null);
  useEffect(() => {
    document.body.style.margin = '0';
    const chart = echarts.init(ref.current as HTMLDivElement, null, { renderer: 'svg', width: 1383, height: 1094 });
    chart.setOption(buildOption() as any);
    return () => chart.dispose();
  }, []);
  return <div ref={ref} style={{ width: 1383, height: 1094 }} />;
}
